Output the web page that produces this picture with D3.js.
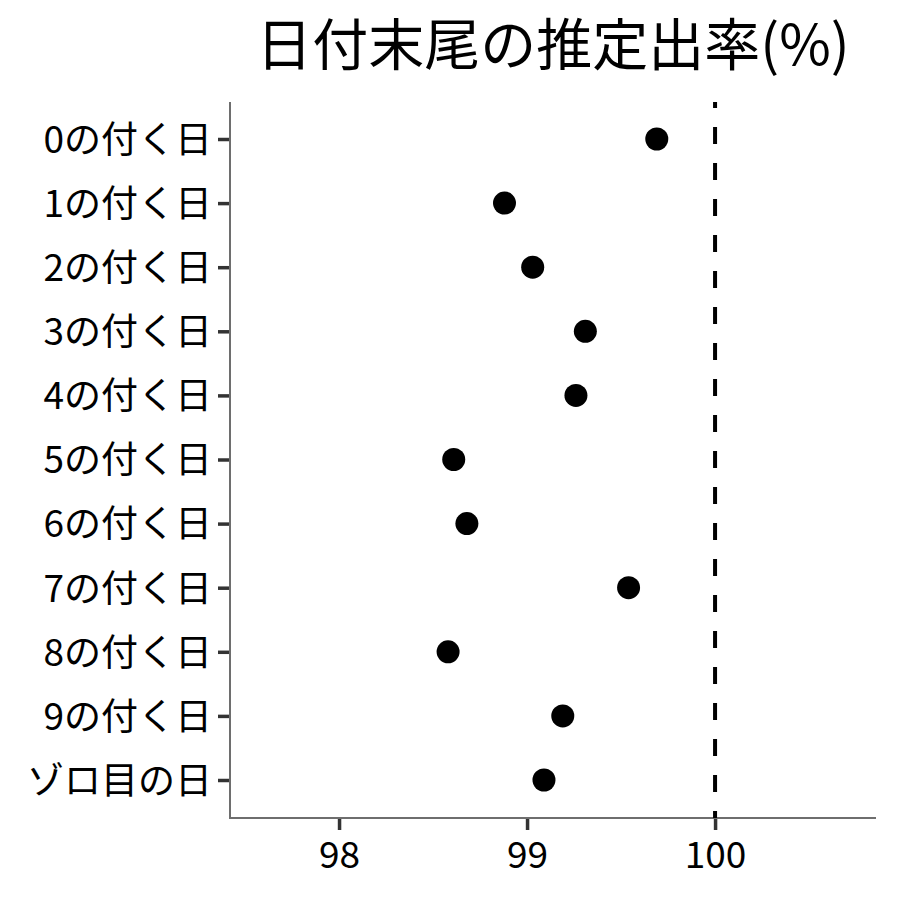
<!DOCTYPE html>
<html>
<head>
<meta charset="utf-8">
<script src="https://cdn.jsdelivr.net/npm/d3@7"></script>
<style>
  body { margin: 0; background: #fff; }
  text { font-family: "Noto Sans CJK JP", "Noto Sans", sans-serif; fill: #000; }
</style>
</head>
<body>
<div id="chart"></div>
<script>
const title = "日付末尾の推定出率(%)";
const categories = ["0の付く日", "1の付く日", "2の付く日", "3の付く日", "4の付く日",
  "5の付く日", "6の付く日", "7の付く日", "8の付く日", "9の付く日", "ゾロ目の日"];
const rates = [99.69, 98.88, 99.03, 99.31, 99.26, 98.61, 98.68, 99.54, 98.58, 99.19, 99.09];
const xTicks = [98, 99, 100];
const refLine = 100;

const width = 900, height = 900;
const margin = { top: 102, right: 24, bottom: 82, left: 230 };

const svg = d3.select('#chart').append('svg')
  .attr('width', width)
  .attr('height', height);

const x = d3.scaleLinear()
  .domain([97.42, 100.856])
  .range([margin.left, width - margin.right]);

const y = d3.scalePoint()
  .domain(categories)
  .range([margin.top + 37, height - margin.bottom - 38]);

// title
svg.append('text')
  .attr('x', (margin.left + width - margin.right) / 2)
  .attr('y', 65)
  .attr('text-anchor', 'middle')
  .style('font-size', '56px')
  .text(title);

// x axis
const xAxis = svg.append('g')
  .attr('transform', `translate(0,${height - margin.bottom})`)
  .call(d3.axisBottom(x).tickValues(xTicks).tickFormat(d3.format('d'))
    .tickSize(12).tickSizeOuter(0).tickPadding(8));

// y axis
const yAxis = svg.append('g')
  .attr('transform', `translate(${margin.left},0)`)
  .call(d3.axisLeft(y).tickSize(12).tickSizeOuter(0).tickPadding(6));

[xAxis, yAxis].forEach(a => {
  a.select('.domain').remove();
  a.selectAll('.tick line').attr('stroke', '#333').attr('stroke-width', 3.5);
  a.selectAll('.tick text').style('font-size', '37px').attr('fill', '#000');
});
xAxis.selectAll('.tick text').attr('dy', '0.8em');
yAxis.selectAll('.tick text').attr('dy', '0.36em');

// axis lines along the panel edges
svg.append('path')
  .attr('d', `M${margin.left},${margin.top}V${height - margin.bottom}H${width - margin.right}`)
  .attr('fill', 'none')
  .attr('stroke', '#6e6e6e')
  .attr('stroke-width', 2);

// reference line
svg.append('line')
  .attr('x1', x(refLine)).attr('x2', x(refLine))
  .attr('y1', margin.top).attr('y2', height - margin.bottom)
  .attr('stroke', '#000')
  .attr('stroke-width', 4)
  .attr('stroke-dasharray', '17,19')
  .attr('stroke-dashoffset', 11);

// points
svg.append('g').selectAll('circle')
  .data(categories)
  .join('circle')
  .attr('cx', (d, i) => x(rates[i]))
  .attr('cy', d => y(d))
  .attr('r', 11.5)
  .attr('fill', '#000');
</script>
</body>
</html>
